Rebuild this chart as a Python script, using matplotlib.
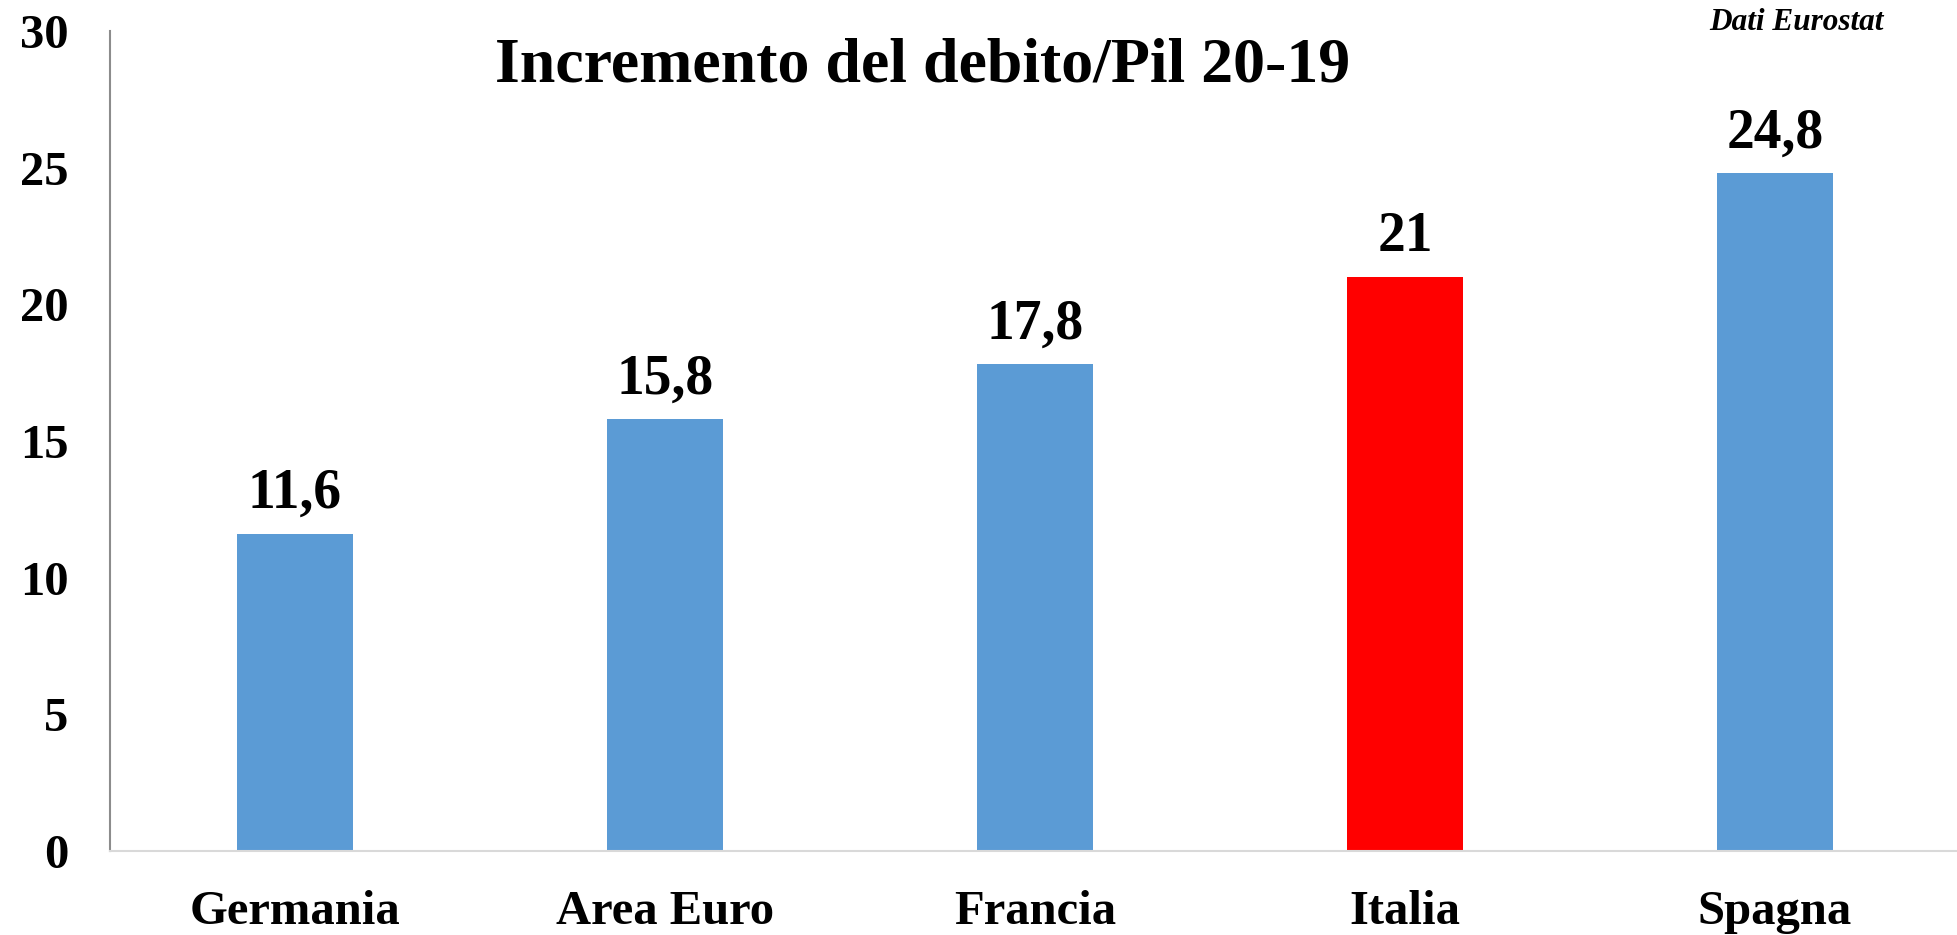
import matplotlib.pyplot as plt

# data
paesi = ["Germania", "Area Euro", "Francia", "Italia", "Spagna"]
incremento = [11.6, 15.8, 17.8, 21, 24.8]
etichette = ["11,6", "15,8", "17,8", "21", "24,8"]
colori = ["#5B9BD5", "#5B9BD5", "#5B9BD5", "#FF0000", "#5B9BD5"]

plt.rcParams["font.family"] = ["Liberation Serif", "DejaVu Serif"]
plt.rcParams["font.weight"] = "bold"

fig = plt.figure(figsize=(19.57, 9.35), dpi=100)
ax = fig.add_axes([110 / 1957, 1 - 851 / 935, 1850 / 1957, 820 / 935])

x = range(len(paesi))
bars = ax.bar(x, incremento, width=0.314, color=colori)

# value labels above the bars
for xi, v, lab in zip(x, incremento, etichette):
    ax.annotate(lab, (xi, v), xytext=(0, 10), textcoords="offset points",
                ha="center", va="bottom", fontsize=40, fontweight="bold")

ax.set_xlim(-0.5, len(paesi) - 0.5)
ax.set_ylim(0, 30)
ax.set_yticks(range(0, 31, 5))
ax.set_xticks(list(x))
ax.set_xticklabels(paesi)
ax.tick_params(axis="y", length=0, pad=30, labelsize=35)
ax.tick_params(axis="x", length=0, pad=28, labelsize=35)
for lab in ax.get_xticklabels() + ax.get_yticklabels():
    lab.set_fontweight("bold")

for s in ["top", "right"]:
    ax.spines[s].set_visible(False)
ax.spines["left"].set_color("#8C8C8C")
ax.spines["left"].set_linewidth(1.5)
ax.spines["bottom"].set_color("#D9D9D9")
ax.spines["bottom"].set_linewidth(1.5)

fig.text(923 / 1957, 1 - 66 / 935, "Incremento del debito/Pil 20-19",
         ha="center", va="center", fontsize=46, fontweight="bold")
fig.text(1796 / 1957, 1 - 23 / 935, "Dati Eurostat", ha="center", va="center",
         fontsize=22.5, fontweight="bold", fontstyle="italic")

fig.savefig("out.png", dpi=100)
